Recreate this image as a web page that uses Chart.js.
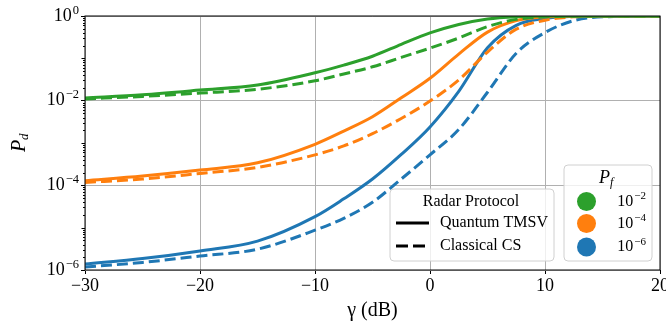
<!DOCTYPE html>
<html>
<head>
<meta charset="utf-8">
<script src="https://cdn.jsdelivr.net/npm/chart.js@4.4.1/dist/chart.umd.min.js"></script>
<style>
  html, body { margin: 0; padding: 0; background: #fff; }
  canvas { display: block; }
</style>
</head>
<body>
<canvas id="pdChart" width="666" height="326"></canvas>
<script>
// gamma in dB
var gammaDb = [-30, -25, -20, -15, -10, -7.5, -5, -2.5, 0, 2.5, 5, 7.5, 10, 12.5, 15, 20];

// detection probability, quantum TMSV (solid) and classical CS (dashed)
var quantumPf2 = [1.15e-2, 1.38e-2, 1.78e-2, 2.35e-2, 4.57e-2, 6.92e-2, 1.12e-1, 2.14e-1, 3.98e-1, 6.31e-1, 8.51e-1, 9.66e-1, 1, 1, 1, 1];
var classicPf2 = [1.10e-2, 1.26e-2, 1.51e-2, 1.86e-2, 2.95e-2, 4.27e-2, 6.31e-2, 1.05e-1, 1.74e-1, 3.02e-1, 5.62e-1, 8.32e-1, 9.55e-1, 9.93e-1, 1, 1];
var quantumPf4 = [1.29e-4, 1.66e-4, 2.29e-4, 3.40e-4, 9.33e-4, 1.91e-3, 4.17e-3, 1.17e-2, 3.39e-2, 1.26e-1, 4.17e-1, 7.76e-1, 9.55e-1, 9.95e-1, 1, 1];
var classicPf4 = [1.17e-4, 1.41e-4, 1.91e-4, 2.65e-4, 5.25e-4, 8.51e-4, 1.66e-3, 3.80e-3, 9.77e-3, 3.09e-2, 1.41e-1, 4.90e-1, 7.94e-1, 9.55e-1, 9.95e-1, 1];
var quantumPf6 = [1.38e-6, 1.86e-6, 2.82e-6, 4.80e-6, 1.82e-5, 4.79e-5, 1.41e-4, 5.37e-4, 2.40e-3, 1.66e-2, 1.78e-1, 6.03e-1, 8.71e-1, 9.82e-1, 1, 1];
var classicPf6 = [1.17e-6, 1.51e-6, 2.14e-6, 3.10e-6, 8.71e-6, 1.66e-5, 3.98e-5, 1.41e-4, 5.25e-4, 2.09e-3, 1.58e-2, 1.32e-1, 4.07e-1, 7.76e-1, 9.55e-1, 1];

var xTicks = [-30, -20, -10, 0, 10, 20];
var yTicks = [1e-6, 1e-4, 1e-2, 1];
var yTickExp = ["\u22126", "\u22124", "\u22122", "0"];
var pfLabels = ["\u22122", "\u22124", "\u22126"];
var protocolLabels = ["Quantum TMSV", "Classical CS"];

var GREEN = "#2ca02c", ORANGE = "#ff7f0e", BLUE = "#1f77b4";
var pfColors = [GREEN, ORANGE, BLUE];
var FONT = "'Liberation Serif', 'DejaVu Serif', serif";

function pts(arr) {
    return gammaDb.map(function (g, i) { return { x: g, y: arr[i] }; });
}

function line(arr, color, dashed) {
    return {
        data: pts(arr),
        borderColor: color,
        borderWidth: 3,
        borderDash: dashed ? [11, 5] : [],
        pointRadius: 0,
        cubicInterpolationMode: "monotone",
        fill: false
    };
}

function roundBox(ctx, x, y, w, h, r) {
    ctx.beginPath();
    ctx.moveTo(x + r, y);
    ctx.lineTo(x + w - r, y);
    ctx.quadraticCurveTo(x + w, y, x + w, y + r);
    ctx.lineTo(x + w, y + h - r);
    ctx.quadraticCurveTo(x + w, y + h, x + w - r, y + h);
    ctx.lineTo(x + r, y + h);
    ctx.quadraticCurveTo(x, y + h, x, y + h - r);
    ctx.lineTo(x, y + r);
    ctx.quadraticCurveTo(x, y, x + r, y);
    ctx.closePath();
    ctx.fillStyle = "rgba(255,255,255,0.8)";
    ctx.fill();
    ctx.strokeStyle = "#d0d0d0";
    ctx.lineWidth = 1;
    ctx.stroke();
}

// "10" with a raised exponent, right aligned
function powText(ctx, exp, xRight, y, big, small) {
    ctx.font = small + "px " + FONT;
    var we = ctx.measureText(exp).width;
    ctx.font = big + "px " + FONT;
    var wb = ctx.measureText("10").width;
    ctx.textBaseline = "middle";
    ctx.textAlign = "left";
    ctx.fillText("10", xRight - we - wb - 1, y);
    ctx.font = small + "px " + FONT;
    ctx.fillText(exp, xRight - we, y - big * 0.32);
}

var extras = {
    id: "extras",
    afterDatasetsDraw: function (chart) {
        var ctx = chart.ctx, a = chart.chartArea, ys = chart.scales.y;
        ctx.save();
        ctx.fillStyle = "#000";

        // frame
        ctx.strokeStyle = "#000";
        ctx.lineWidth = 1;
        ctx.strokeRect(a.left, a.top, a.right - a.left, a.bottom - a.top);

        // minor ticks on log axis
        for (var e = -6; e < 0; e++) {
            for (var k = 1; k <= 9; k++) {
                if (k === 1 && e % 2 === 0) continue;
                var py = Math.round(ys.getPixelForValue(k * Math.pow(10, e))) + 0.5;
                var len = (k === 1) ? 3.5 : 2;
                ctx.beginPath();
                ctx.moveTo(a.left - len, py);
                ctx.lineTo(a.left, py);
                ctx.stroke();
            }
        }

        // y tick labels
        yTicks.forEach(function (v, i) {
            powText(ctx, yTickExp[i], a.left - 6, ys.getPixelForValue(v), 18, 12.5);
        });

        // y title P_d
        ctx.save();
        ctx.translate(20, (a.top + a.bottom) / 2);
        ctx.rotate(-Math.PI / 2);
        ctx.textBaseline = "middle";
        ctx.textAlign = "left";
        ctx.font = "italic 20px " + FONT;
        var wp = ctx.measureText("P").width;
        ctx.fillText("P", -wp / 2 - 3, 0);
        ctx.font = "italic 13px " + FONT;
        ctx.fillText("d", wp / 2 - 3, 5);
        ctx.restore();

        // legend: Radar Protocol
        roundBox(ctx, 390, 189, 164, 72, 4);
        ctx.fillStyle = "#000";
        ctx.font = "16px " + FONT;
        ctx.textAlign = "center";
        ctx.textBaseline = "middle";
        ctx.fillText("Radar Protocol", 471, 202);
        ctx.textAlign = "left";
        ctx.lineWidth = 3;
        ctx.strokeStyle = "#000";
        [223, 246].forEach(function (ry, i) {
            ctx.setLineDash(i === 0 ? [] : [12, 5]);
            ctx.beginPath();
            ctx.moveTo(396, ry);
            ctx.lineTo(429, ry);
            ctx.stroke();
            ctx.fillText(protocolLabels[i], 440, ry);
        });
        ctx.setLineDash([]);

        // legend: P_f
        roundBox(ctx, 564, 165, 88, 96, 4);
        ctx.fillStyle = "#000";
        ctx.font = "italic 18px " + FONT;
        ctx.textBaseline = "middle";
        ctx.textAlign = "left";
        ctx.fillText("P", 599, 178);
        var wP = ctx.measureText("P").width;
        ctx.font = "italic 12px " + FONT;
        ctx.fillText("f", 599 + wP, 183);
        [201.5, 223.5, 247].forEach(function (cy, i) {
            ctx.beginPath();
            ctx.arc(586.5, cy, 9.5, 0, Math.PI * 2);
            ctx.fillStyle = pfColors[i];
            ctx.fill();
            ctx.fillStyle = "#000";
            powText(ctx, pfLabels[i], 646, cy, 16, 11);
        });
        ctx.restore();
    }
};

document.addEventListener("DOMContentLoaded", function () {
    var ctx = document.getElementById("pdChart").getContext("2d");
    new Chart(ctx, {
        type: "line",
        data: {
            datasets: [
                line(quantumPf2, GREEN, false),
                line(classicPf2, GREEN, true),
                line(quantumPf4, ORANGE, false),
                line(classicPf4, ORANGE, true),
                line(quantumPf6, BLUE, false),
                line(classicPf6, BLUE, true)
            ]
        },
        options: {
            responsive: false,
            animation: false,
            devicePixelRatio: 1,
            layout: { padding: { top: 16, right: 6, left: 0, bottom: 0 } },
            plugins: { legend: { display: false }, tooltip: { enabled: false } },
            scales: {
                x: {
                    type: "linear",
                    min: -30,
                    max: 20,
                    afterBuildTicks: function (s) { s.ticks = xTicks.map(function (v) { return { value: v }; }); },
                    afterFit: function (s) { s.height = 56; s.paddingLeft = 0; s.paddingRight = 0; },
                    ticks: {
                        color: "#000",
                        font: { family: FONT, size: 18 },
                        padding: 1,
                        maxRotation: 0,
                        callback: function (v) { return String(v).replace("-", "\u2212"); }
                    },
                    grid: { color: "#b0b0b0", lineWidth: 1, tickColor: "#000", tickLength: 4 },
                    border: { display: false },
                    title: {
                        display: true,
                        text: "\u03b3 (dB)",
                        color: "#000",
                        font: { family: FONT, size: 20 },
                        padding: { top: 0, bottom: 3 }
                    }
                },
                y: {
                    type: "logarithmic",
                    min: 1e-6,
                    max: 1,
                    afterBuildTicks: function (s) { s.ticks = yTicks.map(function (v) { return { value: v }; }); },
                    afterFit: function (s) { s.width = 85; s.paddingTop = 0; s.paddingBottom = 0; },
                    ticks: { display: false },
                    grid: { color: "#b0b0b0", lineWidth: 1, tickColor: "#000", tickLength: 4 },
                    border: { display: false }
                }
            }
        },
        plugins: [extras]
    });
});
</script>
</body>
</html>
